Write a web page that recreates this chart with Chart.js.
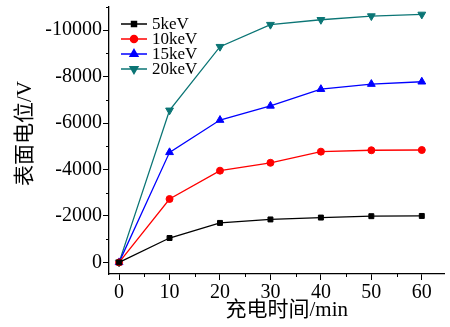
<!DOCTYPE html>
<html>
<head>
<meta charset="utf-8">
<script src="https://cdn.jsdelivr.net/npm/chart.js@4/dist/chart.umd.min.js"></script>
<style>
  html, body { margin: 0; padding: 0; background: #fff; }
  #wrap { width: 450px; height: 327px; }
</style>
</head>
<body>
<div id="wrap"><canvas id="surface"></canvas></div>
<script>
// charging time (min)
const times = [0, 10, 20, 30, 40, 50, 60];
// surface potential (V) for each beam energy
const kev5  = [0, -1050, -1700, -1850, -1930, -1990, -2000];
const kev10 = [0, -2730, -3950, -4290, -4770, -4830, -4840];
const kev15 = [0, -4740, -6130, -6740, -7460, -7680, -7780];
const kev20 = [0, -6550, -9290, -10240, -10450, -10610, -10680];
const seriesNames = ['5keV', '10keV', '15keV', '20keV'];
const xTicks = [0, 10, 20, 30, 40, 50, 60];
const yTicks = [0, -2000, -4000, -6000, -8000, -10000];
const xTitle = '充电时间/min';
const yTitle = '表面电位/V';

const serif = "'Liberation Serif', 'Times New Roman', serif";
const titleFont = "21px 'Liberation Serif', 'Noto Sans CJK SC', serif";
const teal = '#0b7575';

function pts(vals) {
  return vals.map((v, i) => ({ x: times[i], y: v }));
}

// minor ticks between the majors
const minorTicks = {
  id: 'minorTicks',
  afterDraw(chart) {
    const ctx = chart.ctx;
    const xs = chart.scales.x, ys = chart.scales.y;
    ctx.save();
    ctx.strokeStyle = '#000';
    ctx.lineWidth = 1;
    ctx.beginPath();
    [5, 15, 25, 35, 45, 55].forEach(v => {
      const px = Math.round(xs.getPixelForValue(v)) + 0.5;
      ctx.moveTo(px, xs.top);
      ctx.lineTo(px, xs.top + 3);
    });
    [-1000, -3000, -5000, -7000, -9000, -11000].forEach(v => {
      const py = Math.round(ys.getPixelForValue(v)) + 0.5;
      ctx.moveTo(ys.right, py);
      ctx.lineTo(ys.right - 3, py);
    });
    ctx.stroke();
    ctx.restore();
  }
};

// axis titles, sat a little off-centre like in the original figure
const axisTitles = {
  id: 'axisTitles',
  afterDraw(chart) {
    const ctx = chart.ctx;
    const a = chart.chartArea;
    ctx.save();
    ctx.font = titleFont;
    ctx.fillStyle = '#000';
    ctx.textAlign = 'center';
    ctx.textBaseline = 'middle';
    ctx.fillText(xTitle, (a.left + a.right) / 2 + 10, a.bottom + 36);
    ctx.translate(25, (a.top + a.bottom) / 2 - 7);
    ctx.rotate(-Math.PI / 2);
    ctx.fillText(yTitle, 0, 0);
    ctx.restore();
  }
};

// legend with line + marker, like the original plot
const lineLegend = {
  id: 'lineLegend',
  afterDraw(chart) {
    const ctx = chart.ctx;
    ctx.save();
    ctx.font = '17px ' + serif;
    ctx.textBaseline = 'middle';
    chart.data.datasets.forEach((ds, i) => {
      const y = 24 + i * 15;
      ctx.strokeStyle = ds.borderColor;
      ctx.lineWidth = 1.5;
      ctx.beginPath();
      ctx.moveTo(121, y);
      ctx.lineTo(147, y);
      ctx.stroke();
      ctx.fillStyle = ds.borderColor;
      Chart.helpers.drawPoint(ctx, {
        pointStyle: ds.pointStyle,
        radius: ds.pointRadius,
        rotation: ds.pointRotation || 0,
        borderWidth: 1
      }, 134, y);
      ctx.fillStyle = '#000';
      ctx.fillText(ds.label, 152, y + 1);
    });
    ctx.restore();
  }
};

const chart = new Chart(document.getElementById('surface'), {
  type: 'line',
  data: {
    datasets: [
      { label: seriesNames[0], data: pts(kev5), borderColor: '#000', backgroundColor: '#000',
        pointStyle: 'rect', pointRadius: 3.5 },
      { label: seriesNames[1], data: pts(kev10), borderColor: '#ff0000', backgroundColor: '#ff0000',
        pointStyle: 'circle', pointRadius: 3.5 },
      { label: seriesNames[2], data: pts(kev15), borderColor: '#0000ff', backgroundColor: '#0000ff',
        pointStyle: 'triangle', pointRadius: 4.5 },
      { label: seriesNames[3], data: pts(kev20), borderColor: teal, backgroundColor: teal,
        pointStyle: 'triangle', pointRotation: 180, pointRadius: 4.5 }
    ]
  },
  options: {
    responsive: true,
    maintainAspectRatio: false,
    animation: false,
    layout: { padding: { top: 7, right: 2, left: 0, bottom: 0 } },
    elements: {
      line: { borderWidth: 1.3, tension: 0 },
      point: { borderWidth: 1 }
    },
    plugins: {
      legend: { display: false },
      tooltip: { enabled: false }
    },
    scales: {
      x: {
        type: 'linear',
        min: -2,
        max: 64.5,
        afterBuildTicks: s => { s.ticks = xTicks.map(v => ({ value: v })); },
        afterFit: s => { s.height = 53; s.paddingLeft = 0; s.paddingRight = 0; },
        border: { color: '#000', width: 1.3 },
        grid: { drawOnChartArea: false, color: '#000', tickLength: 6 },
        ticks: { color: '#000', font: { family: serif, size: 20 }, padding: 1,
                 callback: v => String(v) }
      },
      y: {
        type: 'linear',
        reverse: true,
        min: -11000,
        max: 500,
        afterBuildTicks: s => { s.ticks = yTicks.map(v => ({ value: v })); },
        afterFit: s => { s.width = 109; s.paddingTop = 0; s.paddingBottom = 0; },
        border: { color: '#000', width: 1.3 },
        grid: { drawOnChartArea: false, color: '#000', tickLength: 6 },
        ticks: { color: '#000', font: { family: serif, size: 20 }, padding: 1,
                 callback: v => String(v) }
      }
    }
  },
  plugins: [minorTicks, axisTitles, lineLegend]
});
</script>
</body>
</html>
